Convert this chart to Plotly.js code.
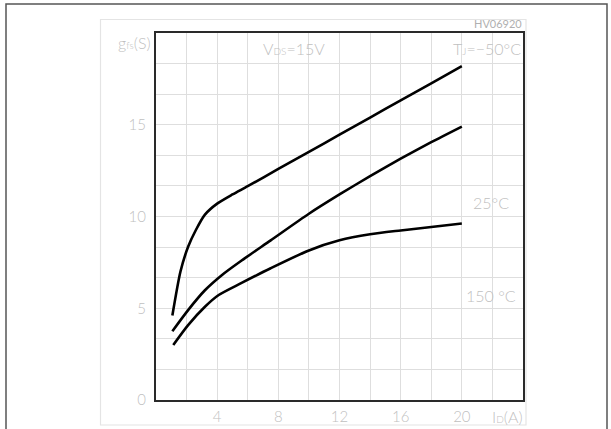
<!DOCTYPE html>
<html>
<head>
<meta charset="utf-8">
<script src="https://cdn.plot.ly/plotly-3.0.1.min.js"></script>
<style>
  html, body { margin: 0; padding: 0; background: #fff; }
  #chart { width: 611px; height: 429px; }
</style>
</head>
<body>
<div id="chart"></div>
<script>
// Drain current ID (A) vs transconductance gfs (S)
const idMinus50 = [1.07, 1.6, 2.1, 2.6, 3.2, 4.0, 5.0, 6.0, 8.0, 10, 12, 14, 16, 18, 20];
const gfsMinus50 = [4.6, 7.0, 8.35, 9.25, 10.1, 10.7, 11.2, 11.65, 12.59, 13.52, 14.46, 15.39, 16.33, 17.26, 18.2];

const id25 = [1.07, 2.1, 3.2, 4.3, 5.6, 7.5, 10, 12, 14, 16, 18, 20];
const gfs25 = [3.75, 4.9, 5.98, 6.8, 7.6, 8.7, 10.15, 11.2, 12.2, 13.15, 14.05, 14.9];

const id150 = [1.13, 2.1, 3.2, 4.1, 5.6, 7.5, 10, 12, 14, 16, 18, 20];
const gfs150 = [3.0, 4.08, 5.08, 5.72, 6.38, 7.18, 8.15, 8.7, 9.03, 9.24, 9.43, 9.62];

// Axis ticks / grid
const xTickVals = [0, 2, 4, 6, 8, 10, 12, 14, 16, 18, 20, 22, 24];
const xTickText = ['', '', '4', '', '8', '', '12', '', '16', '', '20', '', ''];
const yTickVals = [0, 5/3, 10/3, 5, 20/3, 25/3, 10, 35/3, 40/3, 15, 50/3, 55/3, 20];
const yTickText = ['0', '', '', '5', '', '', '10', '', '', '15', '', '', ''];

const FONT = 'Lato, DejaVu Sans, sans-serif';
const TXT = '#bfbfbf';

function curve(x, y) {
  return {
    x: x, y: y, type: 'scatter', mode: 'lines',
    line: { color: '#000', width: 2.6, shape: 'spline', smoothing: 0.7 },
    hoverinfo: 'skip', showlegend: false
  };
}

const data = [curve(idMinus50, gfsMinus50), curve(id25, gfs25), curve(id150, gfs150)];

const W = 611, H = 429, L = 156, R = 88, T = 33, B = 29;
const pw = W - L - R, ph = H - T - B;
const px = p => (p - L) / pw;
const py = p => (H - B - p) / ph;

const tf = { family: FONT, color: TXT, size: 15, weight: 300 };
const af = { family: FONT, color: TXT, size: 16, weight: 300 };

const layout = {
  width: W, height: H,
  margin: { l: L, r: R, t: T, b: B, pad: 0 },
  paper_bgcolor: '#fff', plot_bgcolor: '#fff',
  font: { family: FONT, color: TXT, size: 15 },
  xaxis: {
    range: [0, 24], tickmode: 'array', tickvals: xTickVals, ticktext: xTickText,
    showgrid: true, gridcolor: '#dedede', gridwidth: 1,
    showline: true, mirror: true, linecolor: '#2a2a2a', linewidth: 2,
    ticks: '', zeroline: false, ticklabelstandoff: 2,
    tickfont: tf
  },
  yaxis: {
    range: [0, 20], tickmode: 'array', tickvals: yTickVals, ticktext: yTickText,
    showgrid: true, gridcolor: '#dedede', gridwidth: 1,
    showline: true, mirror: true, linecolor: '#2a2a2a', linewidth: 2,
    ticks: '', zeroline: false, ticklabelstandoff: 5,
    tickfont: tf
  },
  shapes: [
    { type: 'rect', xref: 'paper', yref: 'paper', x0: px(6), x1: px(607), y0: py(440), y1: py(4),
      line: { color: '#555', width: 1.5 }, layer: 'below' },
    { type: 'rect', xref: 'paper', yref: 'paper', x0: px(100.5), x1: px(526), y0: py(425), y1: py(19.5),
      line: { color: '#e4e4e4', width: 1.2 }, layer: 'below' }
  ],
  annotations: [
    { xref: 'paper', yref: 'paper', x: px(153), y: py(43), xanchor: 'right', yanchor: 'middle',
      text: "g<span style='font-size:10px'>fs</span>(S)", showarrow: false, font: af },
    { xref: 'paper', yref: 'paper', x: px(294), y: py(49), xanchor: 'center', yanchor: 'middle',
      text: "V<span style='font-size:10px'>DS</span>=15V", showarrow: false, font: af },
    { xref: 'paper', yref: 'paper', x: px(523), y: py(49), xanchor: 'right', yanchor: 'middle',
      text: "T<span style='font-size:10px'>J</span>=−50°C", showarrow: false, font: af },
    { xref: 'paper', yref: 'paper', x: px(491), y: py(203), xanchor: 'center', yanchor: 'middle',
      text: "25°C", showarrow: false, font: af },
    { xref: 'paper', yref: 'paper', x: px(491), y: py(295), xanchor: 'center', yanchor: 'middle',
      text: "150 °C", showarrow: false, font: af },
    { xref: 'paper', yref: 'paper', x: px(507), y: py(417), xanchor: 'center', yanchor: 'middle',
      text: "I<span style='font-size:10px'>D</span>(A)", showarrow: false, font: af },
    { xref: 'paper', yref: 'paper', x: px(524), y: py(24), xanchor: 'right', yanchor: 'middle',
      text: "HV06920", showarrow: false, font: { size: 11, color: '#b0b0b0', family: FONT } }
  ]
};

Plotly.newPlot('chart', data, layout, { displayModeBar: false, staticPlot: true });
</script>
</body>
</html>
